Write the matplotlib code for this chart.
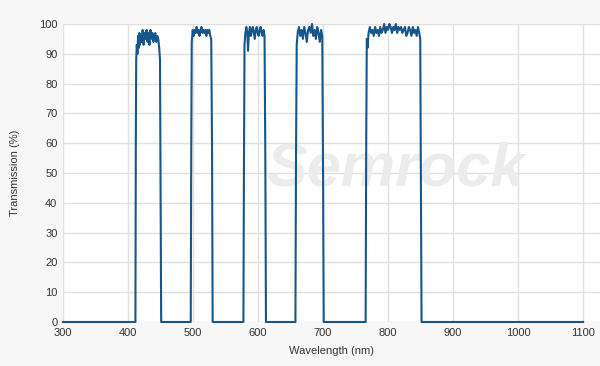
import matplotlib.pyplot as plt

# transmission bands (wavelength nm, transmission %)
band1_wl = [300, 411.4, 412.0, 412.6, 413.5, 414.5, 415.5, 416.5, 417.5, 418.5, 419.5, 421, 422.5, 424, 425.5,
            427, 428.5, 430, 431.5, 433, 434.5, 436, 437.5, 439, 440.5, 442, 443.5, 445, 446.5, 448, 449.2, 450.2, 451.0]
band1_tr = [0, 0, 60, 88, 93, 90, 96, 92, 97, 93, 96, 94, 98, 93, 97,
            95, 98, 94, 97, 93, 98, 95, 97, 94, 96, 97, 94, 96, 95, 92, 88, 40, 0]

band2_wl = [496.5, 497.2, 498, 499.5, 501, 502.5, 504, 505.5, 507, 508.5, 510, 511.5, 513, 514.5, 516,
            517.5, 519, 520.5, 522, 523.5, 525, 526.5, 528, 529.2, 530.2]
band2_tr = [0, 55, 94, 98, 96, 98, 97, 99, 97, 98, 96, 98, 99, 97, 98,
            97, 98, 96, 98, 97, 98, 96, 95, 60, 0]

band3_wl = [577.5, 578.3, 579.2, 580.5, 582, 583.5, 584.6, 586, 587.5, 589, 590.5, 592, 593.5, 595, 596.5,
            598, 599.5, 601, 602.5, 604, 605.5, 607, 608.5, 610, 611.2, 612.2]
band3_tr = [0, 50, 93, 97, 99, 97, 91, 97, 99, 96, 98, 99, 97, 95, 98,
            99, 97, 96, 98, 99, 97, 96, 98, 96, 55, 0]

band4_wl = [657.5, 658.4, 659.5, 661, 663, 665, 667, 669, 671, 673, 675, 677, 679, 681, 683,
            685, 687, 689, 691, 693, 695, 697, 698.8, 700, 701]
band4_tr = [0, 55, 93, 97, 99, 96, 98, 95, 99, 97, 94, 98, 99, 97, 100,
            96, 98, 95, 99, 97, 94, 98, 96, 50, 0]

band5_wl = [765.5, 766.4, 767.3, 768.5, 770, 772, 774, 776, 778, 780, 782, 784, 786, 788, 790,
            792, 794, 796, 798, 800, 802, 804, 806, 808, 810, 812, 814, 816, 818, 820,
            822, 824, 826, 828, 830, 832, 834, 836, 838, 840, 842, 844, 846, 848, 849.5, 850.5, 851.5, 1100]
band5_tr = [0, 60, 95, 92, 97, 99, 97, 98, 96, 99, 97, 98, 96, 99, 97,
            98, 100, 97, 99, 98, 100, 99, 97, 99, 98, 100, 97, 99, 98, 99,
            97, 98, 99, 96, 97, 99, 98, 96, 99, 97, 98, 96, 99, 97, 95, 50, 0, 0]

wl = band1_wl + band2_wl + band3_wl + band4_wl + band5_wl
tr = band1_tr + band2_tr + band3_tr + band4_tr + band5_tr

xticks = [300, 400, 500, 600, 700, 800, 900, 1000, 1100]
yticks = [0, 10, 20, 30, 40, 50, 60, 70, 80, 90, 100]

plt.rcParams['font.family'] = ['Liberation Sans', 'DejaVu Sans']

fig = plt.figure(figsize=(6, 3.66), dpi=100, facecolor='#f7f7f7')
ax = fig.add_axes([63 / 600, 1 - 322 / 366, 537 / 600, 298 / 366])
ax.set_facecolor('white')

# watermark
ax.text(812, 51, 'Semrock', fontsize=44, fontweight='bold', fontstyle='italic',
        color='#ececec', ha='center', va='center', zorder=1)

ax.plot(wl, tr, color='#17568a', linewidth=1.5, zorder=3, clip_on=False)

ax.set_xlim(300, 1126)
ax.set_ylim(0, 100)
ax.set_xticks(xticks)
ax.set_yticks(yticks)
ax.grid(True, color='#e0e0e0', linewidth=1)
ax.set_axisbelow(True)
for s in ax.spines.values():
    s.set_visible(False)
ax.tick_params(length=0, labelsize=8, colors='#333333', pad=4)
ax.set_xlabel('Wavelength (nm)', fontsize=8, color='#333333', labelpad=6)
ax.set_ylabel('Transmission (%)', fontsize=8, color='#333333', labelpad=14)

fig.savefig('out.png', dpi=100, facecolor=fig.get_facecolor())
